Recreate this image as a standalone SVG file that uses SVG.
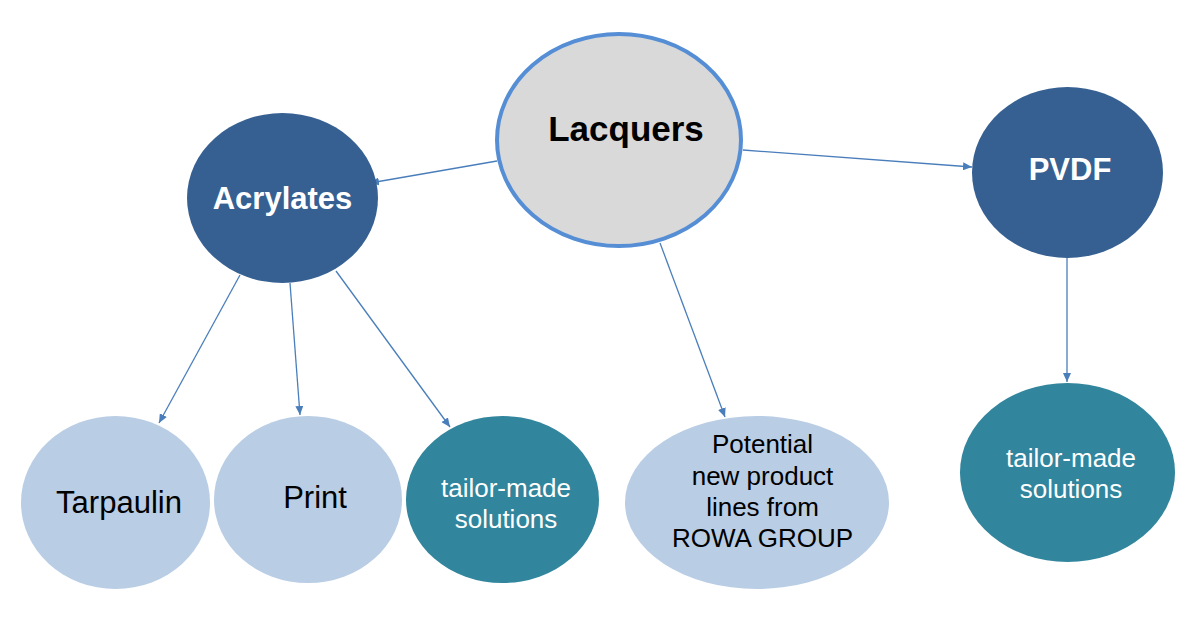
<svg xmlns="http://www.w3.org/2000/svg" width="1200" height="624" viewBox="0 0 1200 624">
<defs>
<marker id="arr" markerUnits="userSpaceOnUse" markerWidth="10" markerHeight="8" refX="9" refY="4" orient="auto">
<path d="M0,0 L9,4 L0,8 Z" fill="#4a7ebb"/>
</marker>
<style>
.conn{stroke:#4a7ebb;stroke-width:1.3;fill:none;marker-end:url(#arr)}
.dark{fill:#366092}
.light{fill:#b9cde5}
.teal{fill:#31859c}
.t{font-family:"Liberation Sans",Arial,sans-serif;text-anchor:middle}
.b{font-weight:bold}
.w{fill:#ffffff}
.k{fill:#000000}
</style>
</defs>
<rect width="1200" height="624" fill="#ffffff"/>
<g id="connectors">
<line class="conn" x1="497" y1="161" x2="370" y2="183"/>
<line class="conn" x1="743" y1="150" x2="972" y2="167"/>
<line class="conn" x1="660" y1="243" x2="725" y2="417"/>
<line class="conn" x1="240" y1="275" x2="159" y2="423"/>
<line class="conn" x1="290" y1="283" x2="300" y2="415"/>
<line class="conn" x1="336" y1="271" x2="450" y2="427"/>
<line class="conn" x1="1067" y1="258" x2="1067" y2="382"/>
</g>
<g id="lacquers">
<ellipse cx="619" cy="140" rx="122" ry="106" fill="#d9d9d9" stroke="#558ed5" stroke-width="4"/>
<text class="t b k" x="626" y="141" font-size="35">Lacquers</text>
</g>
<g id="acrylates">
<ellipse class="dark" cx="282.5" cy="198" rx="95.5" ry="85"/>
<text class="t b w" x="282.5" y="209" font-size="31">Acrylates</text>
</g>
<g id="pvdf">
<ellipse class="dark" cx="1067.5" cy="172.5" rx="95.5" ry="85.5"/>
<text class="t b w" x="1070" y="180" font-size="31">PVDF</text>
</g>
<g id="tarpaulin">
<ellipse class="light" cx="115.5" cy="502.5" rx="94.5" ry="86.5"/>
<text class="t k" x="119" y="513" font-size="31" textLength="126" lengthAdjust="spacingAndGlyphs">Tarpaulin</text>
</g>
<g id="print">
<ellipse class="light" cx="308" cy="499.5" rx="94" ry="83.5"/>
<text class="t k" x="315" y="508" font-size="31">Print</text>
</g>
<g id="tailor-acrylates">
<ellipse class="teal" cx="502.5" cy="499.5" rx="96.5" ry="83.5"/>
<text class="t w" font-size="26"><tspan x="506" y="497">tailor-made</tspan><tspan x="506" y="528">solutions</tspan></text>
</g>
<g id="potential">
<ellipse class="light" cx="757" cy="502.5" rx="132" ry="86.5"/>
<text class="t k" font-size="26"><tspan x="762.5" y="453">Potential</tspan><tspan x="762.5" y="485">new product</tspan><tspan x="762.5" y="516">lines from</tspan><tspan x="762.5" y="547">ROWA GROUP</tspan></text>
</g>
<g id="tailor-pvdf">
<ellipse class="teal" cx="1067.5" cy="472.5" rx="107.5" ry="89.5"/>
<text class="t w" font-size="26"><tspan x="1071" y="467">tailor-made</tspan><tspan x="1071" y="498">solutions</tspan></text>
</g>
</svg>
